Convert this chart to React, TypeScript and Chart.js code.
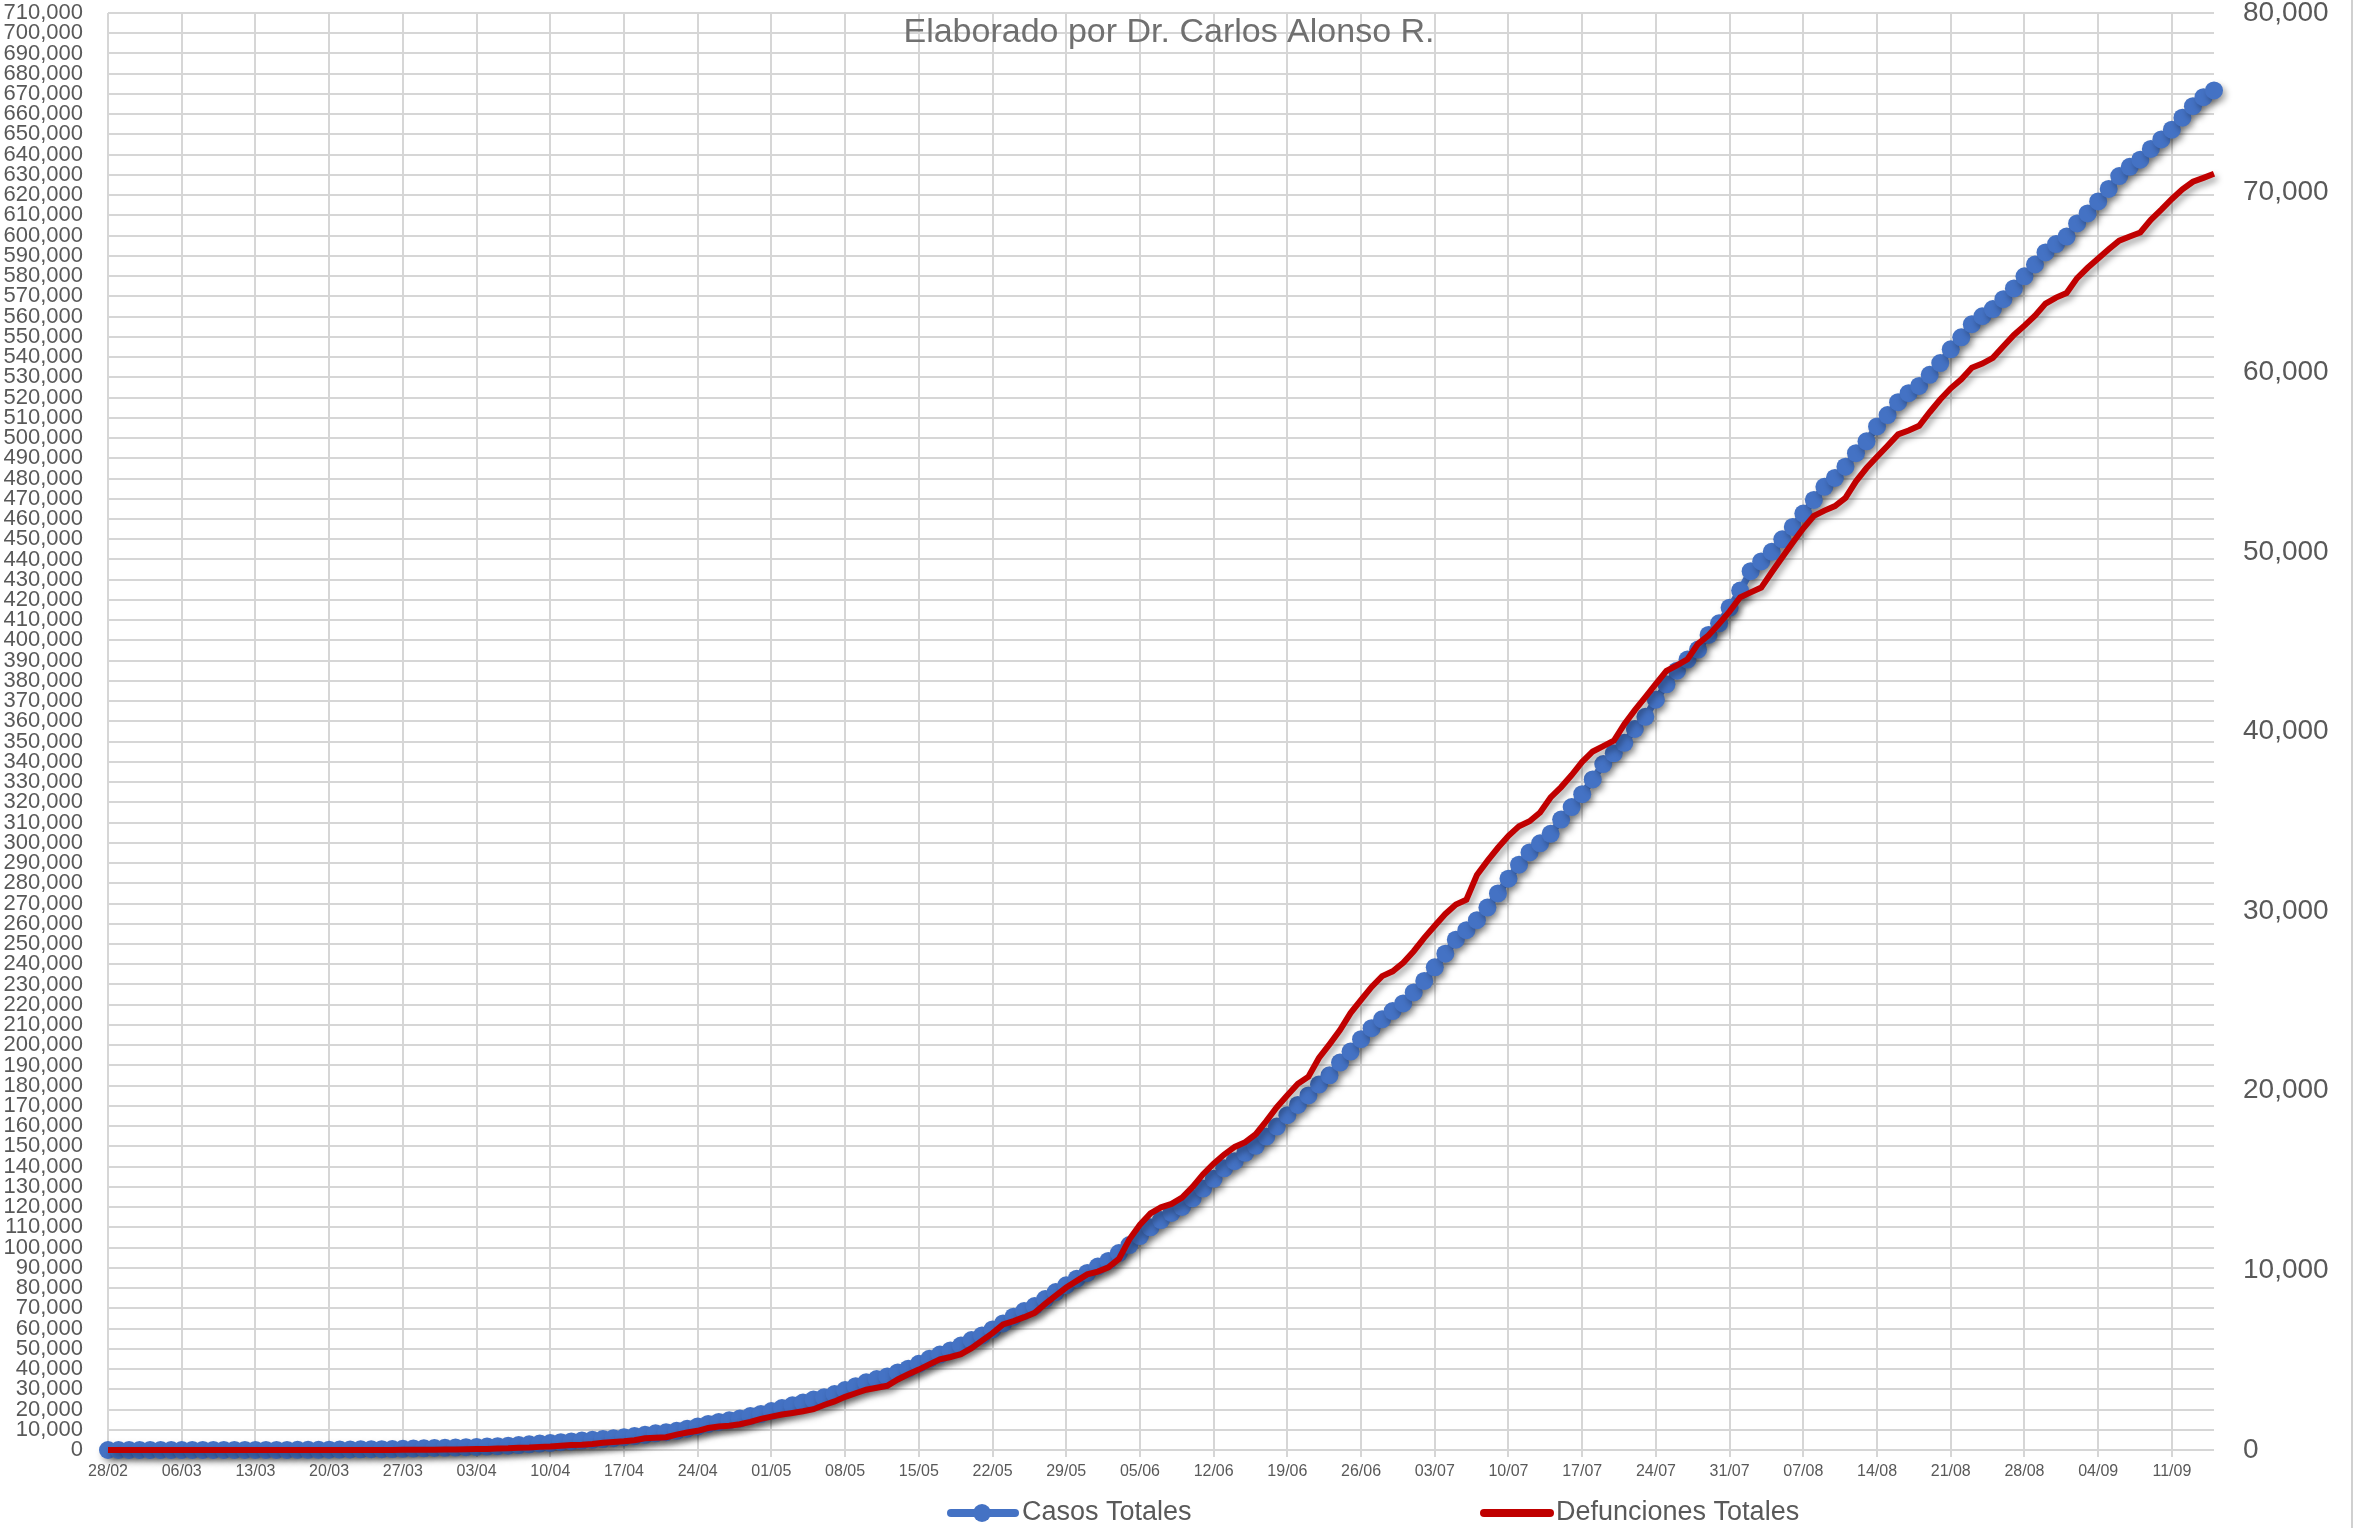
import React, { useEffect, useRef } from "react";
import { Chart, registerables } from "chart.js";

Chart.register(...registerables);

// ---- Data (daily, starting 28/02) ----
const casosFebMar = [
  1, 1, 4, 5, 5, 5, 5, 5, 6, 6, 7, 7, 7, 8, 12, 26, 41, 53, 82, 93, 118, 164, 203, 251, 316, 367, 405,
  475, 585, 717, 848, 993, 1094, 1215,
];
const casosAbr = [
  1378, 1510, 1688, 1890, 2143, 2439, 2785, 3181, 3441, 3844, 4219, 4661, 5014, 5399, 5847, 6297, 6875,
  7497, 8261, 8772, 9501, 10544, 11633, 12872, 13842, 14677, 15529, 16752, 17799, 19224,
];
const casosMay = [
  20739, 22088, 23471, 24905, 26025, 27634, 29616, 31522, 33460, 35022, 36327, 38324, 40186, 42595,
  45032, 47144, 49219, 51633, 54346, 56594, 59567, 62527, 65856, 68620, 71105, 74560, 78023, 81400,
  84627, 87512, 90664,
];
const casosJun = [
  93435, 97326, 101238, 105680, 110026, 113619, 117103, 120102, 124301, 129184, 133974, 139196, 142690,
  146837, 150264, 154863, 159793, 165455, 170485, 175202, 180545, 185122, 191410, 196847, 202951,
  208392, 212802, 216852, 220657, 226089,
];
const casosJul = [
  231770, 238511, 245251, 252165, 256848, 261750, 268008, 275003, 282283, 289174, 295268, 299750,
  304435, 311486, 317635, 324041, 331298, 338913, 344224, 349396, 356255, 362274, 370712, 378285,
  385036, 390516, 395489, 402697, 408449, 416179, 424637,
];
const casosAgo = [
  434193, 439046, 443813, 449961, 456100, 462690, 469407, 475902, 480278, 485836, 492522, 498380,
  505751, 511369, 517714, 522162, 525733, 531239, 537031, 543806, 549734, 556216, 560164, 563705,
  568621, 573888, 579914, 585738, 591712, 595841, 599560,
];
const casosSep = [
  606036, 610957, 616894, 623090, 629409, 634023, 637509, 642860, 647507, 652364, 658299, 663973,
  668381, 671716,
];

const defFebMar = [
  0, 0, 0, 0, 0, 0, 0, 0, 0, 0, 0, 0, 0, 0, 0, 0, 0, 0, 0, 0, 1, 2, 2, 2, 2, 4, 5, 6, 8, 12, 16, 20,
  28, 29,
];
const defAbr = [
  37, 50, 60, 79, 94, 125, 141, 174, 194, 233, 273, 296, 332, 406, 449, 486, 546, 650, 686, 712, 857,
  970, 1069, 1221, 1305, 1351, 1434, 1569, 1732, 1859,
];
const defMay = [
  1972, 2061, 2154, 2271, 2507, 2704, 2961, 3160, 3353, 3465, 3573, 3926, 4220, 4477, 4767, 5045, 5177,
  5332, 5666, 6090, 6510, 6989, 7179, 7394, 7633, 8134, 8597, 9044, 9415, 9779, 9930,
];
const defJun = [
  10167, 10637, 11729, 12545, 13170, 13511, 13699, 14053, 14649, 15357, 15944, 16448, 16872, 17141,
  17580, 18310, 19080, 19747, 20394, 20781, 21825, 22584, 23377, 24324, 25060, 25779, 26381, 26648,
  27121, 27769,
];
const defJul = [
  28510, 29189, 29843, 30366, 30639, 32014, 32796, 33526, 34191, 34730, 35006, 35491, 36327, 36906,
  37574, 38310, 38888, 39184, 39485, 40400, 41190, 41908, 42645, 43374, 43680, 44022, 44876, 45361,
  46000, 46688, 47472,
];
const defAgo = [
  47746, 48012, 48869, 49698, 50517, 51311, 52006, 52298, 52551, 53003, 53929, 54666, 55293, 55908,
  56543, 56757, 57023, 57774, 58481, 59106, 59610, 60254, 60480, 60800, 61450, 62076, 62594, 63146,
  63819, 64158, 64414,
];
const defSep = [
  65241, 65816, 66329, 66851, 67326, 67558, 67781, 68484, 69049, 69649, 70183, 70604, 70821, 71049,
];

const casosTotales = [
  ...casosFebMar, ...casosAbr, ...casosMay, ...casosJun, ...casosJul, ...casosAgo, ...casosSep,
];
const defuncionesTotales = [
  ...defFebMar, ...defAbr, ...defMay, ...defJun, ...defJul, ...defAgo, ...defSep,
];

// Category labels: one per day from 28/02/2020
const fechas: string[] = [];
for (let i = 0; i < casosTotales.length; i++) {
  const d = new Date(Date.UTC(2020, 1, 28 + i));
  const dd = String(d.getUTCDate()).padStart(2, "0");
  const mm = String(d.getUTCMonth() + 1).padStart(2, "0");
  fechas.push(`${dd}/${mm}`);
}

const subtitulo = "Elaborado por Dr. Carlos Alonso R.";
const serieCasos = "Casos Totales";
const serieDef = "Defunciones Totales";

const BLUE = "#4472C4";
const RED = "#C00000";
const GRID = "#d6d6d6";
const TEXT = "#595959";
const FONT = '"Liberation Sans", Arial, sans-serif';

const shadowPlugin = {
  id: "shadowPlugin",
  beforeDatasetDraw(chart: any) {
    const ctx = chart.ctx;
    ctx.save();
    ctx.shadowColor = "rgba(0,0,0,0.35)";
    ctx.shadowBlur = 6;
    ctx.shadowOffsetX = 3;
    ctx.shadowOffsetY = 4;
  },
  afterDatasetDraw(chart: any) {
    chart.ctx.restore();
  },
};

const decorPlugin = {
  id: "decorPlugin",
  afterDraw(chart: any) {
    const ctx = chart.ctx;
    ctx.save();
    // subtitle
    ctx.fillStyle = "#707070";
    ctx.font = `34px ${FONT}`;
    ctx.textAlign = "center";
    ctx.textBaseline = "middle";
    ctx.fillText(subtitulo, 1169, 33);

    // legend
    const ly = 1513;
    ctx.lineCap = "round";
    ctx.strokeStyle = BLUE;
    ctx.lineWidth = 8;
    ctx.beginPath();
    ctx.moveTo(951, ly);
    ctx.lineTo(1015, ly);
    ctx.stroke();
    ctx.fillStyle = BLUE;
    ctx.beginPath();
    ctx.arc(982, ly, 9, 0, Math.PI * 2);
    ctx.fill();
    ctx.fillStyle = TEXT;
    ctx.font = `27px ${FONT}`;
    ctx.textAlign = "left";
    ctx.fillText(serieCasos, 1022, ly);

    ctx.strokeStyle = RED;
    ctx.lineWidth = 8;
    ctx.beginPath();
    ctx.moveTo(1484, ly);
    ctx.lineTo(1550, ly);
    ctx.stroke();
    ctx.fillStyle = TEXT;
    ctx.font = `27px ${FONT}`;
    ctx.fillText(serieDef, 1556, ly);

    // right border
    ctx.strokeStyle = "#d0d0d0";
    ctx.lineWidth = 2;
    ctx.beginPath();
    ctx.moveTo(2352, 0);
    ctx.lineTo(2352, 1528);
    ctx.stroke();
    ctx.restore();
  },
};

export default function App() {
  const ref = useRef<HTMLCanvasElement | null>(null);

  useEffect(() => {
    document.body.style.margin = "0";
    document.body.style.overflow = "hidden";
    const canvas = ref.current;
    if (!canvas) return;
    const chart = new Chart(canvas, {
      type: "line",
      data: {
        labels: fechas,
        datasets: [
          {
            label: serieCasos,
            data: casosTotales,
            yAxisID: "y",
            borderColor: BLUE,
            backgroundColor: BLUE,
            borderWidth: 7,
            pointRadius: 9,
            pointHoverRadius: 9,
            pointBackgroundColor: BLUE,
            pointBorderWidth: 0,
            tension: 0,
            clip: false as any,
            order: 2,
          },
          {
            label: serieDef,
            data: defuncionesTotales,
            yAxisID: "y1",
            borderColor: RED,
            backgroundColor: RED,
            borderWidth: 6,
            pointRadius: 0,
            pointHoverRadius: 0,
            tension: 0,
            clip: false as any,
            order: 1,
          },
        ],
      },
      options: {
        responsive: false,
        animation: false,
        devicePixelRatio: 1,
        events: [],
        layout: { padding: { top: 13, left: 0, right: 0, bottom: 0 } },
        plugins: {
          legend: { display: false },
          title: { display: false },
          tooltip: { enabled: false },
        },
        scales: {
          x: {
            type: "category",
            offset: false,
            grid: {
              color: (c: any) => (c.index % 7 === 0 ? GRID : "rgba(0,0,0,0)"),
              lineWidth: 2,
              drawTicks: true,
              tickLength: 7,
            },
            border: { display: false },
            ticks: {
              autoSkip: false,
              maxRotation: 0,
              minRotation: 0,
              padding: 5,
              color: TEXT,
              font: { family: FONT, size: 16 },
              callback: (_v: any, i: number) => (i % 7 === 0 ? fechas[i] : ""),
            },
            afterFit: (s: any) => {
              s.height = 78;
              s.paddingLeft = 0;
              s.paddingRight = 0;
            },
          },
          y: {
            position: "left",
            min: 0,
            max: 710000,
            grid: { color: GRID, lineWidth: 2, drawTicks: false },
            border: { display: false },
            ticks: {
              stepSize: 10000,
              autoSkip: false,
              padding: 25,
              color: TEXT,
              font: { family: FONT, size: 22 },
              callback: (v: any) => Number(v).toLocaleString("en-US"),
            },
            afterFit: (s: any) => {
              s.width = 108;
              s.paddingTop = 0;
              s.paddingBottom = 0;
            },
          },
          y1: {
            position: "right",
            min: 0,
            max: 80000,
            grid: { display: false, drawOnChartArea: false, drawTicks: false },
            border: { display: false },
            ticks: {
              stepSize: 10000,
              autoSkip: false,
              padding: 29,
              color: TEXT,
              font: { family: FONT, size: 28 },
              callback: (v: any) => Number(v).toLocaleString("en-US"),
            },
            afterFit: (s: any) => {
              s.width = 141;
              s.paddingTop = 0;
              s.paddingBottom = 0;
            },
          },
        },
      } as any,
      plugins: [shadowPlugin, decorPlugin],
    });
    return () => chart.destroy();
  }, []);

  return (
    <div style={{ width: 2355, height: 1528, background: "#ffffff" }}>
      <canvas ref={ref} width={2355} height={1528} style={{ display: "block" }} />
    </div>
  );
}
